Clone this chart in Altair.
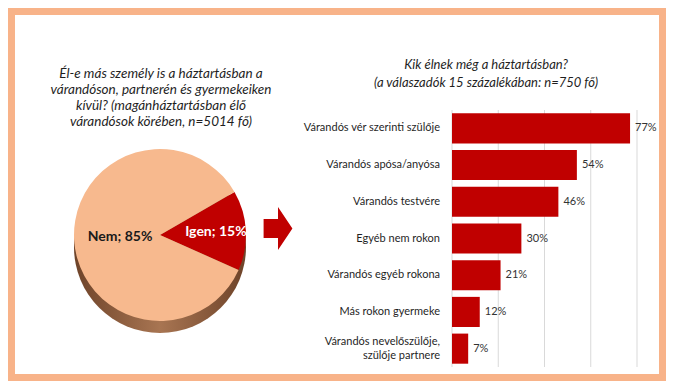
import math
import altair as alt
import pandas as pd

# ---------------- data ----------------
categories = [
    "Várandós vér szerinti szülője",
    "Várandós apósa/anyósa",
    "Várandós testvére",
    "Egyéb nem rokon",
    "Várandós egyéb rokona",
    "Más rokon gyermeke",
    "Várandós nevelőszülője,\nszülője partnere",
]
values = [77, 54, 46, 30, 21, 12, 7]
value_labels = ["77%", "54%", "46%", "30%", "21%", "12%", "7%"]
grid_ticks = [0, 20, 40, 60, 80]

pie_categories = ["Igen", "Nem"]
pie_values = [15, 85]
pie_labels = ["Igen; 15%", "Nem; 85%"]
pie_order = [0, 1]

left_title = ["Él-e más személy is a háztartásban a\nvárandóson, partnerén és gyermekeiken\nkívül? (magánháztartásban élő\nvárandósok körében, n=5014 fő)"]
right_title = ["Kik élnek még a háztartásban?\n(a válaszadók 15 százalékában: n=750 fő)"]

# ---------------- style ----------------
W, H = 658, 373
FONT = "Lato"
RED = "#C00000"
PEACH = "#F7B98E"
BORDER = "#F8B389"
TXT = "#1f1f1f"

bar_df = pd.DataFrame({"cat": categories, "value": values, "label": value_labels})
grid_df = pd.DataFrame({"value": grid_ticks})
pie_df = pd.DataFrame({"cat": pie_categories, "val": pie_values,
                       "label": pie_labels, "ord": pie_order})
one = pd.DataFrame({"k": [0]})

xscale = alt.Scale(domain=[0, 80], range=[444, 629])
yscale = alt.Scale(range=[102, 359], paddingInner=0.18, paddingOuter=0.09)
X = alt.X("value:Q", scale=xscale, axis=None)
Y = alt.Y("cat:N", sort=categories, scale=yscale, axis=None)

grid = alt.Chart(grid_df).mark_rule(color="#D9D9D9", strokeWidth=1).encode(
    x=X, y=alt.value(102), y2=alt.value(359))

bars = alt.Chart(bar_df).mark_bar(color=RED).encode(x=X, y=Y)

val_text = alt.Chart(bar_df).mark_text(
    align="left", baseline="middle", dx=5, font=FONT, fontSize=11, color="#333333"
).encode(x=X, y=Y, text="label:N")

single = [c for c in categories if "\n" not in c]
multi = [c for c in categories if "\n" in c]

cat_text1 = alt.Chart(bar_df).transform_filter(
    alt.FieldOneOfPredicate(field="cat", oneOf=single)
).mark_text(
    align="right", baseline="middle", font=FONT, fontSize=11, color="#1f1f1f"
).encode(x=alt.value(432), y=Y, text="cat:N")

cat_text2 = alt.Chart(bar_df).transform_filter(
    alt.FieldOneOfPredicate(field="cat", oneOf=multi)
).mark_text(
    align="right", baseline="middle", font=FONT, fontSize=11, color="#1f1f1f",
    lineBreak="\n", lineHeight=14, dy=-7
).encode(x=alt.value(432), y=Y, text="cat:N")

# pie
start = math.radians(60)
theta = alt.Theta("val:Q", stack=True,
                  scale=alt.Scale(range=[start, start + 2 * math.pi]))
shadow_grad = alt.Gradient(
    gradient="linear", x1=0, x2=1, y1=0, y2=0,
    stops=[alt.GradientStop(color="#6E4329", offset=0),
           alt.GradientStop(color="#A87552", offset=0.5),
           alt.GradientStop(color="#6E4329", offset=1)])
shadow = alt.Chart(one).mark_arc(
    radius=86, theta=0, theta2=2 * math.pi, color=shadow_grad
).encode(x=alt.value(152), y=alt.value(239))

pie = alt.Chart(pie_df).mark_arc(radius=86).encode(
    theta=theta,
    order=alt.Order("ord:Q"),
    color=alt.Color("cat:N", scale=alt.Scale(domain=pie_categories, range=[RED, PEACH]), legend=None),
    x=alt.value(152), y=alt.value(227))


def pie_label(which, r, col):
    return alt.Chart(pie_df).mark_text(
        radius=r, font=FONT, fontSize=14, fontWeight="bold", baseline="middle", color=col
    ).encode(
        theta=theta,
        order=alt.Order("ord:Q"),
        text=alt.condition(f"datum.cat == '{which}'", alt.Text("label:N"), alt.value("")),
        x=alt.value(155), y=alt.value(227))


pie_text_igen = pie_label("Igen", 53, "white")
pie_text_nem = pie_label("Nem", 43, "#1a1a1a")

# titles (first line position; following lines flow downward)
lt = alt.Chart(pd.DataFrame({"t": left_title})).mark_text(
    font=FONT, fontSize=13.5, fontStyle="italic", color=TXT, align="center",
    baseline="middle", lineBreak="\n", lineHeight=16
).encode(x=alt.value(153), y=alt.value(66), text="t:N")

rt = alt.Chart(pd.DataFrame({"t": right_title})).mark_text(
    font=FONT, fontSize=13, fontStyle="italic", color=TXT, align="center",
    baseline="middle", lineBreak="\n", lineHeight=18
).encode(x=alt.value(478), y=alt.value(57), text="t:N")

# arrow
arrow = alt.Chart(one).mark_point(
    shape="M -0.67 -0.44 L 0 -0.44 L 0 -1 L 0.67 0 L 0 1 L 0 0.44 L -0.67 0.44 Z",
    filled=True, color=RED, opacity=1, size=1849, strokeWidth=0
).encode(x=alt.value(270), y=alt.value(220.5))

# border
border = alt.Chart(one).mark_rect(
    fill="white", fillOpacity=0, stroke=BORDER, strokeWidth=7
).encode(x=alt.value(3.5), x2=alt.value(W - 3.5), y=alt.value(3.5), y2=alt.value(H - 3.5))

chart = alt.layer(
    border, grid, bars, val_text, cat_text1, cat_text2, shadow, pie,
    pie_text_igen, pie_text_nem, lt, rt, arrow
).properties(
    width=W, height=H, padding=0,
    autosize=alt.AutoSizeParams(type="none"),
    background="white",
).configure_view(stroke=None)

chart.save("out.html", embed_options={"renderer": "svg", "actions": False})
